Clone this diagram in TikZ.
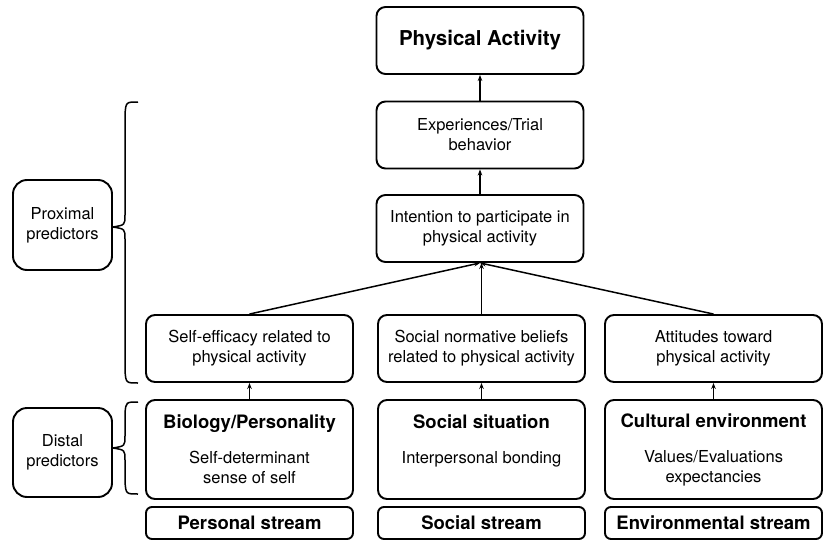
\documentclass[tikz,border=0pt]{standalone}
\usepackage{fontspec}
\setmainfont{TeX Gyre Heros}
\usepackage{tikz}
\usetikzlibrary{arrows.meta}

\begin{document}
\begin{tikzpicture}[
    x=1pt, y=-1pt,
    box/.style={rectangle, draw=black, line width=1.9pt, rounded corners=9pt,
                minimum width=207pt, minimum height=67pt, align=center,
                inner sep=2pt, font=\fontsize{16.5}{20}\selectfont},
    tall/.style={box, minimum height=99pt},
    stream/.style={box, minimum height=32pt, rounded corners=6pt,
                   font=\fontsize{18.5}{22}\selectfont\bfseries},
    side/.style={box, minimum width=99pt, minimum height=90pt, rounded corners=14pt},
    arr/.style={-{Stealth[length=6pt,width=4.5pt]}, line width=1.5pt},
    brace/.style={line width=1.5pt, line join=round}
]
\useasboundingbox (0,0) rectangle (823,541);

% centre column
\node[box, font=\fontsize{20.5}{24}\selectfont\bfseries] (pa) at (480,40.5) {Physical Activity};
\node[box] (exp) at (480,135) {Experiences/Trial\\behavior};
\node[box] (int) at (480,228.5) {Intention to participate in\\physical activity};

% proximal row
\node[box] (self) at (249.5,348.5) {Self-efficacy related to\\physical activity};
\node[box] (norm) at (481.5,348.5) {Social normative beliefs\\related to physical activity};
\node[box, minimum width=217pt] (att) at (713.5,348.5) {Attitudes toward\\physical activity};

% distal row
\node[tall] (bio) at (249.5,449.5) {\fontsize{18.5}{22}\selectfont\bfseries Biology/Personality\\[15pt]
    Self-determinant\\sense of self};
\node[tall] (soc) at (481.5,449.5) {\fontsize{18.5}{22}\selectfont\bfseries Social situation\\[15pt]
    Interpersonal bonding\\\mbox{}};
\node[tall, minimum width=217pt] (cult) at (713.5,449.5) {\fontsize{18.5}{22}\selectfont\bfseries Cultural environment\\[15pt]
    Values/Evaluations\\expectancies};

% streams
\node[stream] (pers) at (249.5,523) {Personal stream};
\node[stream] (sstr) at (481.5,523) {Social stream};
\node[stream, minimum width=217pt] (env) at (713.5,523) {Environmental stream};

% predictor labels
\node[side] (prox) at (62.5,225) {Proximal\\predictors};
\node[side, minimum height=89pt] (dist) at (62.5,452.5) {Distal\\predictors};

% braces
\draw[brace] (138,102) .. controls (126,102) .. (125,114) -- (125,215)
    .. controls (125,225) .. (113,227) .. controls (125,229) .. (125,239)
    -- (125,371) .. controls (126,383) .. (138,383);
\draw[brace] (138,402) .. controls (126,402) .. (125,413) -- (125,436)
    .. controls (125,446) .. (113,448) .. controls (125,450) .. (125,460)
    -- (125,482) .. controls (126,494) .. (138,494);

\draw[arr] (exp) -- (pa);
\draw[arr] (int) -- (exp);
\draw[arr] (self.north) -- (int.south);
\draw[arr] (norm.north) -- (norm.north |- int.south);
\draw[arr] (att.north) -- (int.south);
\draw[arr] (bio) -- (self);
\draw[arr] (soc) -- (norm);
\draw[arr] (cult) -- (att);
\end{tikzpicture}
\end{document}
